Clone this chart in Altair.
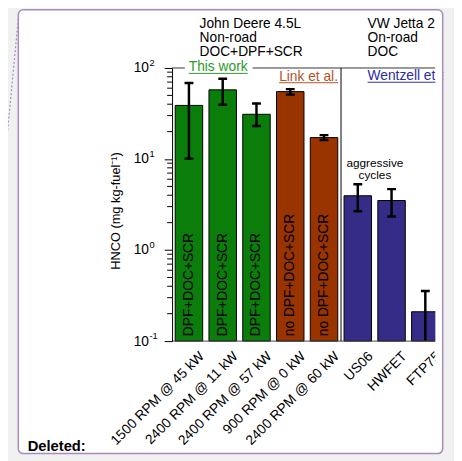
import altair as alt
import pandas as pd

FONT = "Liberation Sans"

categories = ["1500 RPM @ 45 kW", "2400 RPM @ 11 kW", "2400 RPM @ 57 kW",
              "900 RPM @ 0 kW", "2400 RPM @ 60 kW", "US06", "HWFET", "FTP75"]
hnco = [38.8, 57.5, 31.0, 55.0, 17.2, 3.95, 3.5, 0.21]
err_low = [10.1, 39.5, 23.0, 51.0, 16.2, 2.67, 2.34, 0.05]
err_high = [68.5, 76.0, 40.8, 58.6, 18.3, 5.28, 4.67, 0.355]
groups = ["This work"] * 3 + ["Link et al."] * 2 + ["Wentzell et al."] * 3
inner_text = ["DPF+DOC+SCR"] * 3 + ["no DPF+DOC+SCR"] * 2 + [""] * 3

group_names = ["This work", "Link et al.", "Wentzell et al."]
bar_colors = ["#0b7d0b", "#993300", "#352c88"]
label_colors = ["#2a9a2a", "#b0542a", "#2c2ca8"]

major_ticks = [0.1, 1, 10, 100]
major_exponents = ["-1", "0", "1", "2"]
minor_ticks = [0.2, 0.3, 0.4, 0.5, 0.6, 0.7, 0.8, 0.9,
               2, 3, 4, 5, 6, 7, 8, 9,
               20, 30, 40, 50, 60, 70, 80, 90]

header_left = ["John Deere 4.5L", "Non-road", "DOC+DPF+SCR"]
header_right = ["VW Jetta 2", "On-road", "DOC"]
note_line1 = "aggressive"
note_line2 = "cycles"
y_title = "HNCO (mg kg-fuel⁻¹)"

df = pd.DataFrame({"category": categories, "hnco": hnco, "lo": err_low,
                   "hi": err_high, "group": groups, "inner": inner_text})
majors = pd.DataFrame({"v": major_ticks, "e": major_exponents})
minors = pd.DataFrame({"v": minor_ticks})

W, H = 275, 278
PURPLE = "#a98bbb"

xenc = alt.X("category:N", sort=categories, axis=None,
             scale=alt.Scale(paddingInner=0.186, paddingOuter=0.093))
yscale = alt.Scale(type="log", domain=[0.1, 100], nice=False)
yaxis = alt.Axis(values=major_ticks, labelExpr="'10'", tickSize=8, tickColor="black",
                 tickWidth=1, domainColor="black", domainWidth=1, labelPadding=16,
                 labelFont=FONT, labelFontSize=14, labelColor="black", grid=False,
                 title=y_title, titleFont=FONT, titleFontSize=13, titleFontWeight="normal",
                 titleColor="black", titleX=-58, titleY=145, titleAngle=270,
                 titleAlign="center", titleBaseline="middle", zindex=1)

one = alt.Data(values=[{}])


def rect(x, x2, y, y2, **kw):
    return alt.Chart(one).mark_rect(**kw).encode(
        x=alt.value(x), x2=alt.value(x2), y=alt.value(y), y2=alt.value(y2))


def rule(x, x2, y, y2, **kw):
    return alt.Chart(one).mark_rule(**kw).encode(
        x=alt.value(x), x2=alt.value(x2), y=alt.value(y), y2=alt.value(y2))


def text(t, x, y, **kw):
    params = dict(font=FONT, fontSize=14, color="black", align="left",
                  baseline="alphabetic")
    params.update(kw)
    return alt.Chart(one).mark_text(text=t, **params).encode(
        x=alt.value(x), y=alt.value(y))


layers = []
# comment box background
layers.append(rect(-156.5, 275.5, -59.3, 392.5, fill="white", cornerRadius=5))
# dotted connector line
layers.append(rule(-156.5, -175, -50, 143, color=PURPLE, strokeWidth=1.2,
                   strokeDash=[2, 2]))

base = alt.Chart(df)
bars = base.mark_bar(stroke="black", strokeWidth=1).encode(
    x=xenc,
    y=alt.Y("hnco:Q", scale=yscale, axis=yaxis),
    y2=alt.datum(0.1),
    color=alt.Color("group:N", scale=alt.Scale(domain=group_names, range=bar_colors),
                    legend=None),
)
layers.append(bars)

err = base.mark_rule(color="black", strokeWidth=2.5, clip=True).encode(
    x=xenc, y=alt.Y("lo:Q", scale=yscale, axis=yaxis), y2="hi:Q")
cap_lo = base.mark_tick(color="black", size=9, thickness=2.5, opacity=1, clip=True).encode(
    x=xenc, y=alt.Y("lo:Q", scale=yscale, axis=yaxis))
cap_hi = base.mark_tick(color="black", size=9, thickness=2.5, opacity=1, clip=True).encode(
    x=xenc, y=alt.Y("hi:Q", scale=yscale, axis=yaxis))
layers += [err, cap_lo, cap_hi]

inner = base.mark_text(angle=270, align="left", baseline="middle", dx=5, font=FONT,
                       fontSize=14, color="black").encode(
    x=xenc, y=alt.datum(0.1), text="inner:N")
layers.append(inner)

xlabels = base.mark_text(angle=315, align="right", baseline="top", dx=0, dy=12,
                         font=FONT, fontSize=14, color="black").encode(
    x=xenc, y=alt.datum(0.1), text="category:N")
layers.append(xlabels)

# minor ticks on log axis
minor = alt.Chart(minors).mark_rule(color="black", strokeWidth=1).encode(
    y=alt.Y("v:Q", scale=yscale, axis=yaxis), x=alt.value(-5), x2=alt.value(0))
layers.append(minor)

# exponents of tick labels
expo = alt.Chart(majors).mark_text(font=FONT, fontSize=9.5, color="black", align="left",
                                   baseline="alphabetic", dy=-2).encode(
    y=alt.Y("v:Q", scale=yscale, axis=yaxis), x=alt.value(-23), text="e:N")
layers.append(expo)

# frame lines
layers.append(rule(0, 13, 0, 0, color="#333333", strokeWidth=1))
layers.append(rule(82, 268, 0, 0, color="#333333", strokeWidth=1))
layers.append(rule(0, 268, 278, 278, color="#444444", strokeWidth=1))
layers.append(rule(172, 172, 0, 278, color="black", strokeWidth=1))

# group labels with underline
layers.append(text("This work", 17, 3.5, color=label_colors[0]))
layers.append(rule(17, 77, 5.5, 5.5, color=label_colors[0], strokeWidth=1))
layers.append(text("Link et al.", 109, 13, color=label_colors[1]))
layers.append(rule(109, 169, 15, 15, color=label_colors[1], strokeWidth=1))
layers.append(text("Wentzell et al.", 199, 12.5, color=label_colors[2]))
layers.append(rule(199, 270, 14.5, 14.5, color=label_colors[2], strokeWidth=1))

# headers
layers.append(text(header_left, 28, -40.5, lineHeight=14))
layers.append(text(header_right, 199, -40.5, lineHeight=14))
layers.append(text(note_line1, 206.5, 101, fontSize=12, align="center"))
layers.append(text(note_line2, 206.5, 113, fontSize=12, align="center"))
layers.append(text("Deleted:", -147, 390, fontSize=15, fontWeight="bold"))

# clipping covers on the right
layers.append(rect(268, 276, -58, 391, fill="white"))
layers.append(rect(276.3, 320, -70, 420, fill="#f0f0f0"))
# comment box border
layers.append(rect(-156.5, 275.5, -59.3, 392.5, fillOpacity=0, stroke=PURPLE,
                   strokeWidth=1.5, cornerRadius=5))

chart = alt.layer(*layers).properties(
    width=W, height=H,
    padding={"left": 167, "top": 57, "right": 12, "bottom": 118},
    autosize=alt.AutoSizeParams(type="none"),
    background="#f0f0f0",
).configure_view(stroke=None)

chart.save("out.html", embed_options={"renderer": "svg", "actions": False})
